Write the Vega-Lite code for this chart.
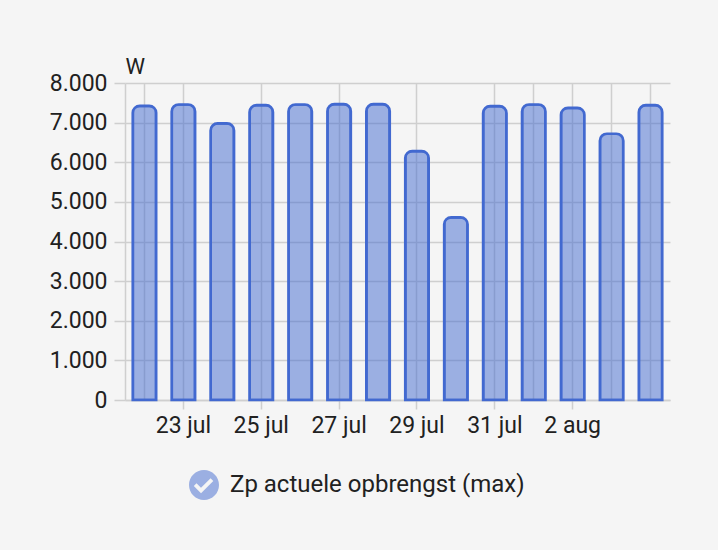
{
  "$schema": "https://vega.github.io/schema/vega-lite/v6.json",
  "width": 545,
  "height": 317,
  "autosize": {"type": "none"},
  "padding": {"left": 125, "top": 83, "right": 48, "bottom": 150},
  "background": "#f5f5f5",
  "config": {
    "view": {"stroke": null},
    "font": "Roboto",
    "axis": {
      "gridColor": "#cfcfcf",
      "gridWidth": 1.5,
      "domainColor": "#cfcfcf",
      "domainWidth": 1.5,
      "tickColor": "#cfcfcf",
      "tickWidth": 1.5,
      "labelColor": "#212121",
      "titleColor": "#212121",
      "labelFont": "Roboto",
      "titleFont": "Roboto"
    }
  },
  "data": {
    "values": [
      {"dag": "22 jul", "vermogen": 7424},
      {"dag": "23 jul", "vermogen": 7457},
      {"dag": "24 jul", "vermogen": 6979},
      {"dag": "25 jul", "vermogen": 7440},
      {"dag": "26 jul", "vermogen": 7457},
      {"dag": "27 jul", "vermogen": 7465},
      {"dag": "28 jul", "vermogen": 7465},
      {"dag": "29 jul", "vermogen": 6281},
      {"dag": "30 jul", "vermogen": 4611},
      {"dag": "31 jul", "vermogen": 7414},
      {"dag": "1 aug", "vermogen": 7457},
      {"dag": "2 aug", "vermogen": 7374},
      {"dag": "3 aug", "vermogen": 6719},
      {"dag": "4 aug", "vermogen": 7440}
    ]
  },
  "mark": {
    "type": "bar",
    "fillOpacity": 0.5,
    "stroke": "#4269d0",
    "strokeWidth": 2.7,
    "cornerRadiusTopLeft": 7,
    "cornerRadiusTopRight": 7
  },
  "encoding": {
    "x": {
      "field": "dag",
      "type": "ordinal",
      "sort": null,
      "scale": {"paddingInner": 0.4, "paddingOuter": 0.2},
      "axis": {
        "title": null,
        "labelAngle": 0,
        "grid": true,
        "gridOpacity": {
          "condition": {"test": "indexof(['24 jul','26 jul','28 jul','30 jul'], datum.value) >= 0", "value": 0},
          "value": 1
        },
        "tickOpacity": {
          "condition": {"test": "indexof(['23 jul','25 jul','27 jul','29 jul','31 jul','2 aug'], datum.value) < 0", "value": 0},
          "value": 1
        },
        "labelExpr": "indexof(['23 jul','25 jul','27 jul','29 jul','31 jul','2 aug'], datum.value) >= 0 ? datum.value : ''",
        "tickSize": 9,
        "labelPadding": 5,
        "labelFontSize": 23
      }
    },
    "y": {
      "field": "vermogen",
      "type": "quantitative",
      "scale": {"domain": [0, 8000], "nice": false},
      "axis": {
        "values": [0, 1000, 2000, 3000, 4000, 5000, 6000, 7000, 8000],
        "labelExpr": "replace(format(datum.value, ','), ',', '.')",
        "grid": true,
        "domain": true,
        "tickSize": 11,
        "labelPadding": 7,
        "labelFontSize": 23,
        "title": "W",
        "titleAngle": 0,
        "titleX": 0,
        "titleY": -10,
        "titleAlign": "left",
        "titleBaseline": "alphabetic",
        "titleFontSize": 22,
        "titleFontWeight": "normal"
      }
    },
    "color": {
      "datum": "Zp actuele opbrengst (max)",
      "scale": {"range": ["#4269d0"]},
      "legend": {
        "orient": "none",
        "legendX": 64,
        "legendY": 387,
        "title": null,
        "padding": 0,
        "symbolType": "M -1 0 A 1 1 0 1 1 1 0 A 1 1 0 1 1 -1 0 Z M -0.68 0.06 L -0.2 0.55 L 0.62 -0.27 L 0.44 -0.45 L -0.2 0.19 L -0.5 -0.12 Z",
        "symbolSize": 900,
        "symbolOpacity": 0.5,
        "symbolStrokeWidth": 0,
        "labelFontSize": 24,
        "labelFont": "Roboto",
        "labelColor": "#212121",
        "labelOffset": 11,
        "labelLimit": 500
      }
    }
  }
}
